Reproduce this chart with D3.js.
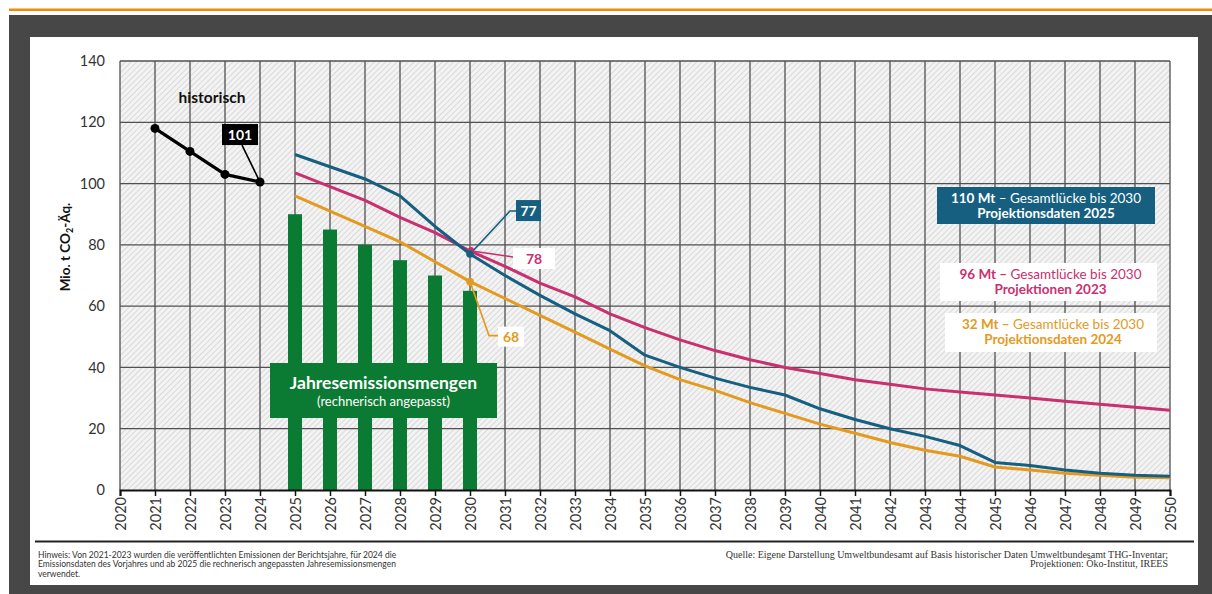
<!DOCTYPE html>
<html><head><meta charset="utf-8">
<script src="https://cdn.jsdelivr.net/npm/d3@7/dist/d3.min.js"></script>
<style>html,body{margin:0;padding:0;background:#fff;}svg{display:block;}</style>
</head><body>
<svg id="c" width="1212" height="594"></svg>
<script>
// ---------- data ----------
const xTickYears = [2020,2021,2022,2023,2024,2025,2026,2027,2028,2029,2030,2031,2032,2033,2034,2035,2036,2037,2038,2039,2040,2041,2042,2043,2044,2045,2046,2047,2048,2049,2050];
const yTicks = [0,20,40,60,80,100,120,140];
const histYears = [2021,2022,2023,2024];
const histValues = [118,110.5,103,100.5];
const barYears = [2025,2026,2027,2028,2029,2030];
const barValues = [90,85,80,75,70,65];
const projYears = [2025,2026,2027,2028,2029,2030,2031,2032,2033,2034,2035,2036,2037,2038,2039,2040,2041,2042,2043,2044,2045,2046,2047,2048,2049,2050];
const proj2025 = [109.5,105.5,101.5,96,86,77,70,63.5,57.5,52,44,40,36.5,33.5,31,26.5,23,20,17.5,14.5,9,8,6.5,5.5,4.8,4.5];
const proj2023 = [103.5,99,94.5,89,84,78,73,67.5,63,57.5,53,49,45.5,42.5,40,38,36,34.5,33,32,31,30,29,28,27,26];
const proj2024 = [96,91,86,81,74.5,68,62.5,57,51.5,46,40.5,36,32.5,28.5,25,21.5,18.5,15.5,13,11,7.5,6.5,5.5,4.8,4.2,4];
const labels = {hist:"101", p2025:"77", p2023:"78", p2024:"68"};
const legendTexts = [
  {bold:"110 Mt", rest:" – Gesamtlücke bis 2030", line2:"Projektionsdaten 2025"},
  {bold:"96 Mt –", rest:" Gesamtlücke bis 2030", line2:"Projektionen 2023"},
  {bold:"32 Mt –", rest:" Gesamtlücke bis 2030", line2:"Projektionsdaten 2024"}
];

// ---------- styles ----------
const C = {blue:"#165f80", magenta:"#c9306f", orange:"#e39a1e", green:"#0b7a32", grid:"#505050"};
const FONT = "Lato, 'Open Sans', sans-serif";

const svg = d3.select("#c");
svg.append("rect").attr("x",0).attr("y",0).attr("width",1212).attr("height",594).attr("fill","#fff");
svg.append("rect").attr("x",9).attr("y",8.5).attr("width",1203).attr("height",2.5).attr("fill","#f08a00");
svg.append("rect").attr("x",9).attr("y",15).attr("width",1203).attr("height",579).attr("fill","#474747");
svg.append("rect").attr("x",30).attr("y",37).attr("width",1168).attr("height",548).attr("fill","#fff");

const defs = svg.append("defs");
const pat = defs.append("pattern").attr("id","hatch").attr("patternUnits","userSpaceOnUse")
  .attr("width",4).attr("height",4).attr("patternTransform","rotate(45)");
pat.append("rect").attr("width",4).attr("height",4).attr("fill","#f3f3f3");
pat.append("line").attr("x1",0).attr("y1",0).attr("x2",0).attr("y2",4).attr("stroke","#c8c8c8").attr("stroke-width",1.2);

const x = d3.scaleLinear().domain([2020,2050]).range([120,1170]);
const y = d3.scaleLinear().domain([0,140]).range([490,61]);

// plot background
svg.append("rect").attr("x",x(2020)).attr("y",y(140)).attr("width",x(2050)-x(2020)).attr("height",y(0)-y(140)).attr("fill","url(#hatch)");

// grid
const g = svg.append("g");
g.selectAll(".vg").data(xTickYears).join("line")
  .attr("x1",d=>x(d)).attr("x2",d=>x(d)).attr("y1",y(140)).attr("y2",y(0))
  .attr("stroke",C.grid).attr("stroke-width",1.3);
g.selectAll(".hg").data(yTicks.filter(d=>d>0)).join("line")
  .attr("x1",x(2020)).attr("x2",x(2050)).attr("y1",d=>y(d)).attr("y2",d=>y(d))
  .attr("stroke",C.grid).attr("stroke-width",1.3);

// bars
const bw = 14;
svg.append("g").selectAll("rect").data(barYears.map((d,i)=>({yr:d,v:barValues[i]}))).join("rect")
  .attr("x",d=>x(d.yr)-bw/2).attr("width",bw).attr("y",d=>y(d.v)).attr("height",d=>y(0)-y(d.v))
  .attr("fill",C.green);

// y axis labels
const yAxis = d3.axisLeft(y).tickValues(yTicks).tickSize(0).tickPadding(0);
const ya = svg.append("g").attr("transform","translate(105,0)").call(yAxis);
ya.select(".domain").remove();
ya.selectAll("text").attr("font-family",FONT).attr("font-size",14.5).attr("fill","#333");

// x axis
const xAxis = d3.axisBottom(x).tickValues(xTickYears).tickFormat(d3.format("d")).tickSize(6).tickPadding(4);
const xa = svg.append("g").attr("transform",`translate(0,${y(0)})`).call(xAxis);
xa.select(".domain").attr("stroke","#111").attr("stroke-width",2);
xa.selectAll(".tick line").attr("stroke","#111").attr("stroke-width",1.5);
xa.selectAll("text").attr("font-family",FONT).attr("font-size",14.5).attr("fill","#333")
  .attr("transform","rotate(-90)").attr("text-anchor","end").attr("dx","-7").attr("y",0).attr("x",0)
  .attr("dominant-baseline","central").attr("dy","0");

// lines
const line = d3.line().x(d=>x(d[0])).y(d=>y(d[1]));
function drawLine(years, vals, color, w){
  svg.append("path").datum(years.map((d,i)=>[d,vals[i]])).attr("d",line)
    .attr("fill","none").attr("stroke",color).attr("stroke-width",w).attr("stroke-linejoin","round");
}
drawLine(projYears, proj2024, C.orange, 3);
drawLine(projYears, proj2023, C.magenta, 3);
drawLine(projYears, proj2025, C.blue, 3);
drawLine(histYears, histValues, "#000", 3.2);
svg.append("g").selectAll("circle").data(histYears.map((d,i)=>[d,histValues[i]])).join("circle")
  .attr("cx",d=>x(d[0])).attr("cy",d=>y(d[1])).attr("r",4.5).attr("fill","#000");

// annotations
function idx(yr){return projYears.indexOf(yr);}
const px = x(2030);
const pB = y(proj2025[idx(2030)]), pM = y(proj2023[idx(2030)]), pO = y(proj2024[idx(2030)]);
svg.append("circle").attr("cx",px).attr("cy",pO).attr("r",3.8).attr("fill",C.orange);
svg.append("circle").attr("cx",px+1).attr("cy",pM-1).attr("r",3).attr("fill",C.magenta);
svg.append("circle").attr("cx",px).attr("cy",pB).attr("r",3.8).attr("fill",C.blue);

// 101
const hx = x(2024), hy = y(histValues[3]);
svg.append("line").attr("x1",hx-18).attr("y1",hy-37).attr("x2",hx).attr("y2",hy).attr("stroke","#000").attr("stroke-width",1.6);
svg.append("rect").attr("x",hx-38).attr("y",hy-58).attr("width",36).attr("height",21).attr("fill","#000");
svg.append("text").attr("x",hx-20).attr("y",hy-42).attr("text-anchor","middle").attr("font-family",FONT)
  .attr("font-weight","bold").attr("font-size",14).attr("fill","#fff").text(labels.hist);

// 77
svg.append("path").attr("d",`M${px},${pB} L${px+40},${pB-43} L${px+46},${pB-43}`).attr("fill","none").attr("stroke",C.blue).attr("stroke-width",1.6);
svg.append("rect").attr("x",px+46).attr("y",pB-54).attr("width",25).attr("height",21).attr("fill",C.blue);
svg.append("text").attr("x",px+58.5).attr("y",pB-38).attr("text-anchor","middle").attr("font-family",FONT)
  .attr("font-weight","bold").attr("font-size",14).attr("fill","#fff").text(labels.p2025);

// 78
svg.append("path").attr("d",`M${px+2},${pM} L${px+43},${pM+6}`).attr("fill","none").attr("stroke",C.magenta).attr("stroke-width",1.6);
svg.append("rect").attr("x",px+43).attr("y",pM-3).attr("width",42).attr("height",21).attr("fill","#fff");
svg.append("text").attr("x",px+64).attr("y",pM+13).attr("text-anchor","middle").attr("font-family",FONT)
  .attr("font-weight","bold").attr("font-size",14).attr("fill",C.magenta).text(labels.p2023);

// 68
svg.append("path").attr("d",`M${px},${pO} L${px+19},${pO+54} L${px+28},${pO+54}`).attr("fill","none").attr("stroke",C.orange).attr("stroke-width",1.6);
svg.append("rect").attr("x",px+28).attr("y",pO+45).attr("width",26).attr("height",20).attr("fill","#fff");
svg.append("text").attr("x",px+41).attr("y",pO+60).attr("text-anchor","middle").attr("font-family",FONT)
  .attr("font-weight","bold").attr("font-size",14).attr("fill",C.orange).text(labels.p2024);

// historisch
svg.append("text").attr("x",212).attr("y",103).attr("text-anchor","middle").attr("font-family",FONT)
  .attr("font-weight","bold").attr("font-size",15.5).attr("fill","#111").text("historisch");

// Jahresemissionsmengen box
svg.append("rect").attr("x",270).attr("y",363).attr("width",227).attr("height",55).attr("fill",C.green);
svg.append("text").attr("x",383.5).attr("y",389).attr("text-anchor","middle").attr("font-family",FONT)
  .attr("font-weight","bold").attr("font-size",17.5).attr("fill","#fff").text("Jahresemissionsmengen");
svg.append("text").attr("x",383.5).attr("y",406).attr("text-anchor","middle").attr("font-family",FONT)
  .attr("font-size",13).attr("fill","#fff").text("(rechnerisch angepasst)");

// legend boxes
const boxes = [
  {x:937,y:187,w:218,h:37,fill:C.blue,text:"#fff"},
  {x:940,y:263,w:217,h:38,fill:"#fff",text:C.magenta},
  {x:945,y:313,w:212,h:39,fill:"#fff",text:C.orange}
];
boxes.forEach((b,i)=>{
  svg.append("rect").attr("x",b.x).attr("y",b.y).attr("width",b.w).attr("height",b.h).attr("fill",b.fill);
  const cx = b.x+b.w/2+ (i===0?0:2);
  const t = svg.append("text").attr("x",cx).attr("y",b.y+16).attr("text-anchor","middle")
    .attr("font-family",FONT).attr("font-size",13.5).attr("fill",b.text);
  t.append("tspan").attr("font-weight","bold").text(legendTexts[i].bold);
  t.append("tspan").text(legendTexts[i].rest);
  svg.append("text").attr("x",cx).attr("y",b.y+31).attr("text-anchor","middle")
    .attr("font-family",FONT).attr("font-size",13.5).attr("font-weight","bold").attr("fill",b.text).text(legendTexts[i].line2);
});

// y title
const yt = svg.append("text").attr("transform","translate(70,247) rotate(-90)").attr("text-anchor","middle")
  .attr("font-family",FONT).attr("font-weight","bold").attr("font-size",13.5).attr("fill","#111");
yt.append("tspan").text("Mio. t CO");
yt.append("tspan").attr("font-size",9).attr("dy",3).text("2");
yt.append("tspan").attr("dy",-3).text("-Äq.");

// separator & footnotes
svg.append("line").attr("x1",35).attr("x2",1194).attr("y1",541.5).attr("y2",541.5).attr("stroke","#222").attr("stroke-width",2);
const foot = ["Hinweis: Von 2021-2023 wurden die veröffentlichten Emissionen der Berichtsjahre, für 2024 die",
  "Emissionsdaten des Vorjahres und ab 2025 die rechnerisch angepassten Jahresemissionsmengen",
  "verwendet."];
foot.forEach((s,i)=>svg.append("text").attr("x",38).attr("y",558+i*9.3).attr("font-family",FONT)
  .attr("font-size",8.5).attr("fill","#333").text(s));
const src = ["Quelle: Eigene Darstellung Umweltbundesamt auf Basis historischer Daten Umweltbundesamt THG-Inventar;",
  "Projektionen: Öko-Institut, IREES"];
src.forEach((s,i)=>svg.append("text").attr("x",1168).attr("y",558+i*9).attr("text-anchor","end")
  .attr("font-family","'Liberation Serif','DejaVu Serif',serif").attr("font-size",10).attr("fill","#333").text(s));
</script>
</body></html>
